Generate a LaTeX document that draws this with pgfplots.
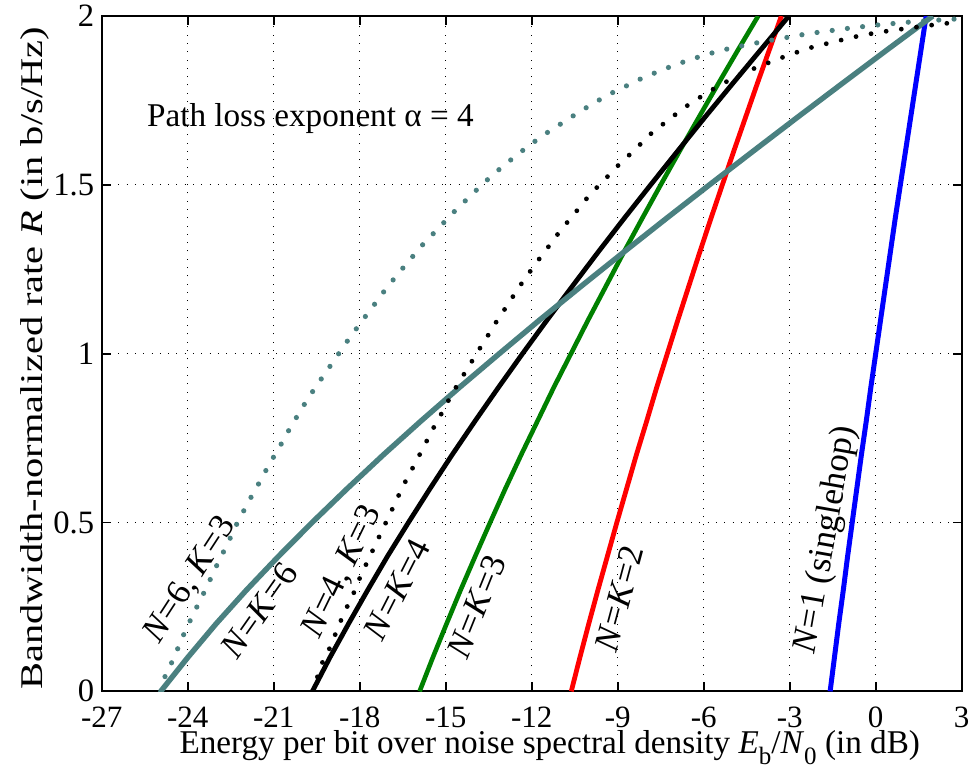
\documentclass[border=0pt]{standalone}
\usepackage{fontspec}
\setmainfont{Liberation Serif}
\usepackage{pgfplots}
\pgfplotsset{compat=1.18}
\definecolor{tealc}{rgb}{0.29,0.50,0.50}
\definecolor{greenc}{rgb}{0,0.5,0}
\newcommand\tf{\fontsize{16.3}{19}\selectfont}
\newcommand\xtf{\fontsize{15.5}{18}\selectfont}
\newcommand\lf{\fontsize{17.5}{20}\selectfont}
\newcommand\sub[1]{\raisebox{-0.32em}{\fontsize{12.5}{12.5}\selectfont #1}}
\begin{document}
\begin{tikzpicture}
\begin{axis}[name=ax, scale only axis, width=430pt, height=337.65pt,
  xmin=-27, xmax=3, ymin=0, ymax=2,
  xtick={-27,-24,-21,-18,-15,-12,-9,-6,-3,0,3},
  xticklabels={-27,-24,-21,-18,-15,-12,-9,-6,-3,0,3},
  ytick={0,0.5,1,1.5,2}, yticklabels={0,0.5,1,1.5,2},
  tick align=inside, tick pos=both, major tick length=4.5pt,
  every tick/.style={black, line width=0.85pt},
  axis line style={line width=0.85pt},
  grid=major,
  major grid style={black, line width=0.5pt, dash pattern=on 0.5pt off 3.65pt},
  yticklabel style={font=\tf, inner sep=0pt, xshift=-3.6pt},
  xticklabel style={font=\xtf, inner sep=0pt, yshift=-7.6pt},
  xlabel={Energy per bit over noise spectral density \textit{E}\sub{b}/\textit{N}\sub{0} (in dB)},
  ylabel={\scalebox{1.28}[1]{Bandwidth-normalized rate \textit{R} (in b/s/Hz)}},
  xlabel style={font=\fontsize{16.6}{19}\selectfont, at={([yshift=-31.2pt]axis description cs:0.521,0)}, anchor=base, inner sep=0pt},
  ylabel style={font=\fontsize{15.8}{18}\selectfont, at={([xshift=-29.5pt]axis description cs:0,0.493)}, anchor=base, inner sep=0pt},
  every axis plot/.append style={line join=round},
]
% N=1 singlehop
\addplot[blue, line width=2.5pt] coordinates {
(-1.59,0) (-1.44,0.1) (-1.29,0.2) (-1.13,0.3) (-0.98,0.4) (-0.82,0.5) (-0.66,0.6)
(-0.50,0.7) (-0.33,0.8) (-0.17,0.9) (0,1.0) (0.17,1.1) (0.34,1.2) (0.51,1.3)
(0.68,1.4) (0.86,1.5) (1.04,1.6) (1.22,1.7) (1.40,1.8) (1.58,1.9) (1.76,2.0)};
% N=K=2
\addplot[red, line width=2.4pt] coordinates {
(-10.62,0) (-10.32,0.1) (-10.01,0.2) (-9.69,0.3) (-9.36,0.4) (-9.03,0.5) (-8.69,0.6)
(-8.35,0.7) (-7.99,0.8) (-7.64,0.9) (-7.27,1.0) (-6.90,1.1) (-6.52,1.2) (-6.14,1.3)
(-5.75,1.4) (-5.35,1.5) (-4.95,1.6) (-4.54,1.7) (-4.13,1.8) (-3.71,1.9) (-3.29,2.0)};
% N=K=3
\addplot[greenc, line width=2.3pt] coordinates {
(-15.91,0) (-15.45,0.1) (-14.97,0.2) (-14.48,0.3) (-13.97,0.4) (-13.45,0.5) (-12.92,0.6)
(-12.37,0.7) (-11.80,0.8) (-11.23,0.9) (-10.63,1.0) (-10.03,1.1) (-9.41,1.2) (-8.79,1.3)
(-8.15,1.4) (-7.50,1.5) (-6.84,1.6) (-6.17,1.7) (-5.49,1.8) (-4.80,1.9) (-4.10,2.0)};
% N=K=4
\addplot[black, line width=2.4pt] coordinates {
(-19.65,0) (-19.04,0.1) (-18.39,0.2) (-17.72,0.3) (-17.03,0.4) (-16.30,0.5) (-15.55,0.6)
(-14.78,0.7) (-13.98,0.8) (-13.16,0.9) (-12.32,1.0) (-11.46,1.1) (-10.58,1.2) (-9.69,1.3)
(-8.78,1.4) (-7.85,1.5) (-6.91,1.6) (-5.96,1.7) (-4.99,1.8) (-4.01,1.9) (-3.03,2.0)};
% N=K=6
\addplot[tealc, line width=2.7pt] coordinates {
(-24.94,0) (-24.00,0.1) (-23.01,0.2) (-21.95,0.3) (-20.83,0.4) (-19.66,0.5) (-18.44,0.6)
(-17.18,0.7) (-15.87,0.8) (-14.52,0.9) (-13.13,1.0) (-11.72,1.1) (-10.27,1.2) (-8.80,1.3)
(-7.31,1.4) (-5.80,1.5) (-4.27,1.6) (-2.73,1.7) (-1.17,1.8) (0.40,1.9) (1.99,2.0)};
% N=6, K=3 (dotted)
\addplot[tealc, line width=2.6pt, line cap=round, dash pattern=on 0pt off 7.65pt] coordinates {
(-24.94,0) (-24.79,0.044) (-24.56,0.085) (-24.35,0.126) (-24.14,0.168) (-23.91,0.210)
(-23.68,0.250) (-23.44,0.291) (-23.21,0.332) (-22.98,0.374) (-22.74,0.415) (-22.51,0.455)
(-22.28,0.497) (-22.03,0.537) (-21.77,0.578) (-21.51,0.617) (-21.26,0.656) (-20.99,0.696)
(-20.72,0.735) (-20.46,0.775) (-20.18,0.815) (-19.90,0.854) (-19.61,0.892) (-19.31,0.929)
(-19.00,0.967) (-18.70,1.004) (-18.40,1.041) (-18.08,1.078) (-17.76,1.115) (-17.44,1.151)
(-17.12,1.188) (-16.79,1.223) (-16.45,1.258) (-16.10,1.293) (-15.75,1.328) (-15.37,1.361)
(-15.00,1.394) (-14.63,1.427) (-14.25,1.458) (-13.86,1.490) (-13.47,1.521) (-13.06,1.551)
(-12.64,1.580) (-12.22,1.608) (-11.79,1.635) (-11.35,1.661) (-10.90,1.685) (-10.45,1.710)
(-9.99,1.734) (-9.53,1.757) (-9.05,1.779) (-8.57,1.798) (-8.10,1.818) (-7.60,1.835)
(-7.10,1.852) (-6.60,1.867) (-6.09,1.881) (-5.57,1.894) (-5.05,1.905) (-4.53,1.914)
(-4.00,1.923) (-3.46,1.931) (-2.93,1.939) (-2.41,1.947) (-1.89,1.953) (-1.36,1.959)
(-0.82,1.965) (-0.30,1.970) (0.24,1.975) (0.78,1.979) (1.31,1.983) (1.85,1.986)
(2.36,1.989) (3.00,1.992)};
% N=4, K=3 (dotted)
\addplot[black, line width=2.4pt, line cap=round, dash pattern=on 0pt off 7.65pt] coordinates {
(-19.65,0) (-19.29,0.088) (-19.04,0.129) (-18.65,0.211) (-18.42,0.254) (-18.20,0.293)
(-17.99,0.337) (-17.76,0.379) (-17.32,0.458) (-17.08,0.501) (-16.85,0.542) (-16.62,0.584)
(-16.39,0.624) (-16.13,0.665) (-15.89,0.704) (-15.64,0.745) (-15.39,0.786) (-15.13,0.825)
(-14.88,0.865) (-14.61,0.905) (-14.32,0.945) (-14.06,0.981) (-13.77,1.021) (-13.48,1.060)
(-13.20,1.099) (-12.90,1.137) (-12.61,1.175) (-12.32,1.212) (-12.00,1.250) (-11.69,1.286)
(-11.36,1.323) (-11.04,1.360) (-10.70,1.395) (-10.36,1.430) (-10.03,1.465) (-9.65,1.499)
(-9.28,1.531) (-8.91,1.564) (-8.51,1.595) (-8.13,1.627) (-7.75,1.659) (-7.32,1.686)
(-6.90,1.714) (-6.47,1.741) (-6.02,1.765) (-5.56,1.789) (-5.09,1.811) (-4.61,1.832)
(-4.11,1.849) (-3.61,1.866) (-3.11,1.882) (-2.60,1.897) (-2.09,1.911) (-1.56,1.921)
(-1.05,1.932) (-0.53,1.942) (0.00,1.950) (0.53,1.957) (1.06,1.963) (1.60,1.969)
(2.12,1.975) (2.66,1.980) (3.00,1.983)};
% annotations
\node[anchor=base west, font=\fontsize{16.6}{19}\selectfont, inner sep=0pt] at (axis cs:-25.43,1.672) {Path loss exponent α = 4};
\node[font=\lf, rotate=57] at (axis cs:-23.91,0.330) {\textit{N}=6, \textit{K}=3};
\node[font=\lf, rotate=55] at (axis cs:-21.51,0.239) {\textit{N}=\textit{K}=6};
\node[font=\lf, rotate=64] at (axis cs:-18.61,0.354) {\textit{N}=4, \textit{K}=3};
\node[font=\lf, rotate=63] at (axis cs:-16.71,0.302) {\textit{N}=\textit{K}=4};
\node[font=\lf, rotate=68] at (axis cs:-13.92,0.251) {\textit{N}=\textit{K}=3};
\node[font=\lf, rotate=75] at (axis cs:-8.95,0.275) {\textit{N}=\textit{K}=2};
\node[font=\lf, rotate=80] at (axis cs:-1.71,0.448) {\textit{N}=1 (singlehop)};
\end{axis}
\pgfresetboundingbox
\path ([xshift=-50.85pt,yshift=-40.85pt]ax.south west) rectangle ([xshift=4.65pt,yshift=8pt]ax.north east);
\end{tikzpicture}
\end{document}
